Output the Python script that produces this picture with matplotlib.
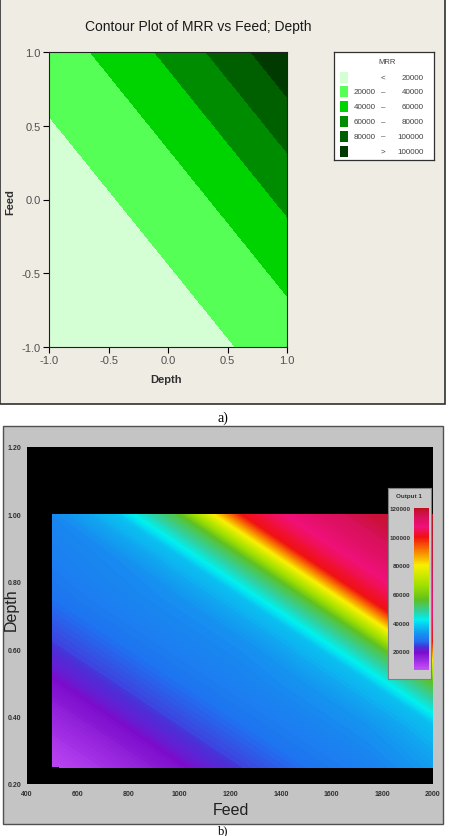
import numpy as np
import matplotlib
matplotlib.use("Agg")
import matplotlib.pyplot as plt
from matplotlib.colors import LinearSegmentedColormap, Normalize
from matplotlib.patches import Rectangle
from matplotlib.cm import ScalarMappable

# ---------------- data: panel a) (coded units) ----------------
depth_a = [-1.0, -0.5, 0.0, 0.5, 1.0]
feed_a = [-1.0, -0.5, 0.0, 0.5, 1.0]
# rows = feed, cols = depth
mrr_a = [
    [4000, 7000, 11000, 18600, 29400],
    [7000, 11000, 18600, 29400, 44700],
    [11000, 18600, 29400, 44700, 64500],
    [18600, 29400, 44700, 64500, 88700],
    [29400, 44700, 64500, 88700, 117400],
]
mrr_levels = [0, 20000, 40000, 60000, 80000, 100000, 200000]
mrr_colors = ['#d4ffd4', '#55ff55', '#00d400', '#008c00', '#006000', '#003a00']
legend_left = ['', '20000', '40000', '60000', '80000', '']
legend_mid = ['<', '\u2013', '\u2013', '\u2013', '\u2013', '>']
legend_right = ['20000', '40000', '60000', '80000', '100000', '100000']
ticks_a = [-1.0, -0.5, 0.0, 0.5, 1.0]

# ---------------- data: panel b) (real units) ----------------
feed_b = [500, 750, 1000, 1250, 1500, 1750, 2000]
depth_b = [0.25, 0.375, 0.5, 0.625, 0.75, 0.875, 1.0]
# rows = depth (bottom -> top), cols = feed
out_b = [
    [9000, 13500, 18500, 24000, 27500, 30000, 33500],
    [13500, 18500, 24000, 27500, 30000, 32500, 37000],
    [18500, 24000, 27500, 30000, 32500, 37000, 55000],
    [24000, 27500, 30000, 32000, 37000, 55000, 100000],
    [27500, 30000, 32000, 37000, 55000, 100000, 110000],
    [29500, 31500, 37000, 55000, 100000, 110000, 117000],
    [31000, 37000, 55000, 100000, 110000, 117000, 120000],
]
cmap_values = [7000, 10000, 19000, 23000, 27000, 32000, 38000, 42000, 48000,
               56000, 66000, 80000, 90000, 100000, 107000, 114000, 120000]
cmap_colors = ['#c452f5', '#b440f0', '#7c0ccc', '#4a30d8', '#2070f0', '#1690f0',
               '#08c8f0', '#00f0f0', '#30d0a0', '#60c020', '#a0e000', '#f8f000',
               '#f88000', '#f01010', '#f0107a', '#d8105a', '#c01020']
cbar_ticks = [20000, 40000, 60000, 80000, 100000, 120000]
xticks_b = [400, 600, 800, 1000, 1200, 1400, 1600, 1800, 2000]
yticks_b = [0.20, 0.40, 0.60, 0.80, 1.00, 1.20]

# ---------------- layout helpers ----------------
W, H = 449, 837


def fr(x0, y0, x1, y1):
    return [x0 / W, 1 - y1 / H, (x1 - x0) / W, (y1 - y0) / H]


def fx(x):
    return x / W


def fy(y):
    return 1 - y / H


SANS = ['Liberation Sans', 'DejaVu Sans']
plt.rcParams['font.family'] = SANS

fig = plt.figure(figsize=(W / 100, H / 100), dpi=100, facecolor='white')

# ---------- panel a ----------
fig.patches.append(Rectangle((0, fy(405)), fx(445), 405 / H, transform=fig.transFigure,
                             facecolor='#efece4', edgecolor='#303030', lw=1.2, zorder=-10))

ax1 = fig.add_axes(fr(49, 53, 287, 348))
ax1.contourf(depth_a, feed_a, np.array(mrr_a), levels=mrr_levels, colors=mrr_colors)
ax1.set_xlim(-1, 1)
ax1.set_ylim(-1, 1)
ax1.set_xticks(ticks_a)
ax1.set_yticks(ticks_a)
ax1.set_xticklabels([f'{t:.1f}' for t in ticks_a])
ax1.set_yticklabels([f'{t:.1f}' for t in ticks_a])
ax1.tick_params(direction='out', length=4, width=0.8, labelsize=8, labelcolor='#505050', pad=2)
for s in ax1.spines.values():
    s.set_linewidth(0.8)
    s.set_color('#202020')

fig.text(fx(198), fy(27), 'Contour Plot of MRR vs Feed; Depth', ha='center', va='center',
         fontsize=10, color='#1a1a1a')
fig.text(fx(166), fy(380), 'Depth', ha='center', va='center', fontsize=8, fontweight='bold',
         color='#303030')
fig.text(fx(10), fy(202), 'Feed', ha='center', va='center', rotation=90, fontsize=8,
         fontweight='bold', color='#303030')

# legend box
lg = fig.add_axes(fr(334, 53, 434, 161))
lg.set_xlim(0, 100)
lg.set_ylim(108, 0)
lg.set_xticks([])
lg.set_yticks([])
lg.set_facecolor('white')
for s in lg.spines.values():
    s.set_linewidth(0.9)
    s.set_color('#303030')
lg.text(53, 10, 'MRR', ha='center', va='center', fontsize=5.5, color='#404040')
for i, c in enumerate(mrr_colors):
    yc = 25 + i * 14.8
    lg.add_patch(Rectangle((6, yc - 5.5), 8, 11, facecolor=c, edgecolor='none'))
    lg.text(42, yc, legend_left[i], ha='right', va='center', fontsize=5.8, color='#404040')
    lg.text(49, yc, legend_mid[i], ha='center', va='center', fontsize=5.8, color='#404040')
    lg.text(90, yc, legend_right[i], ha='right', va='center', fontsize=5.8, color='#404040')

fig.text(fx(223), fy(418), 'a)', ha='center', va='center', fontsize=10,
         family=['Liberation Serif', 'DejaVu Serif'])

# ---------- panel b ----------
fig.patches.append(Rectangle((fx(3), fy(825)), (443 - 3) / W, (825 - 427) / H,
                             transform=fig.transFigure, facecolor='#c4c4c4',
                             edgecolor='#505050', lw=1.0, zorder=-10))

vmin, vmax = cmap_values[0], cmap_values[-1]
pos = [(v - vmin) / (vmax - vmin) for v in cmap_values]
cmap_b = LinearSegmentedColormap.from_list('out1', list(zip(pos, cmap_colors)))
norm_b = Normalize(vmin=vmin, vmax=vmax)

ax2 = fig.add_axes(fr(27, 448, 433, 785))
ax2.set_facecolor('black')
ax2.contourf(feed_b, depth_b, np.array(out_b), levels=np.linspace(3000, 125000, 245),
             cmap=cmap_b, norm=norm_b, antialiased=False, extend='both')
ax2.set_xlim(400, 2000)
ax2.set_ylim(0.2, 1.2)
ax2.set_xticks(xticks_b)
ax2.set_yticks(yticks_b)
ax2.set_xticklabels([str(t) for t in xticks_b], fontsize=5, fontweight='bold',
                    color='#303030')
ax2.set_yticklabels([f'{t:.2f}' for t in yticks_b], fontsize=5, fontweight='bold',
                    color='#303030')
ax2.tick_params(length=0, pad=4)
for s in ax2.spines.values():
    s.set_visible(False)

fig.text(fx(231), fy(811), 'Feed', ha='center', va='center', fontsize=11.5,
         color='#202020')
fig.text(fx(11), fy(610), 'Depth', ha='center', va='center', rotation=90, fontsize=11.5,
         color='#202020')

# colorbar inset
box = fig.add_axes(fr(388, 489, 431, 680))
box.set_facecolor('#c8c8c8')
box.set_xticks([])
box.set_yticks([])
for s in box.spines.values():
    s.set_color('#808080')
    s.set_linewidth(0.8)

cax = fig.add_axes(fr(414, 509, 429, 671))
cb = fig.colorbar(ScalarMappable(norm=norm_b, cmap=cmap_b), cax=cax)
cb.outline.set_visible(False)
cb.set_ticks(cbar_ticks)
cb.set_ticklabels([str(t) for t in cbar_ticks])
cax.yaxis.set_ticks_position('left')
cax.tick_params(length=0, pad=2.5, labelsize=4.5)
for lab in cax.get_yticklabels():
    lab.set_fontweight('bold')
    lab.set_color('#303030')
fig.text(fx(409), fy(497), 'Output 1', ha='center', va='center', fontsize=4.5,
         fontweight='bold', color='#303030')

fig.text(fx(223), fy(831), 'b)', ha='center', va='center', fontsize=9,
         family=['Liberation Serif', 'DejaVu Serif'])

fig.savefig('out.png', dpi=100, facecolor='white')
